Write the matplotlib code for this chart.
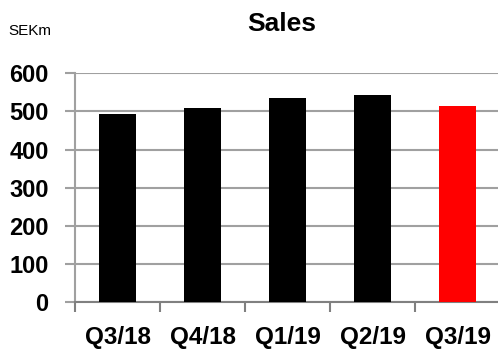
import matplotlib
matplotlib.use("Agg")
import matplotlib.pyplot as plt
import numpy as np

categories = ["Q3/18", "Q4/18", "Q1/19", "Q2/19", "Q3/19"]
sales = [494, 508, 535, 543, 514]
colors = ["#000000", "#000000", "#000000", "#000000", "#ff0000"]
yticks = [0, 100, 200, 300, 400, 500, 600]

font = "Liberation Sans"

fig = plt.figure(figsize=(4.98, 3.49), dpi=100)
ax = fig.add_axes([75/498, 47/349, 425/498, (302-73.3)/349])
x = np.arange(len(categories))
ax.bar(x, sales, width=0.43, color=colors, zorder=3)
ax.set_xlim(-0.5, 4.5)
ax.set_ylim(0, 600)
ax.set_yticks(yticks)
ax.set_yticklabels([str(v) for v in yticks], fontfamily=font, fontweight="bold", fontsize=17)
ax.yaxis.grid(True, color="#a0a0a0", linewidth=1.5, zorder=0)
ax.set_xticks(np.arange(-0.5, 4.5, 1.0))
ax.set_xticklabels([])
ax.set_xticks(x, minor=True)
ax.set_xticklabels(categories, minor=True, fontfamily=font, fontweight="bold", fontsize=17.5)
ax.tick_params(axis="x", which="minor", length=0, pad=17)
ax.tick_params(axis="x", which="major", length=7, width=1.5, color="#808080", direction="out")
ax.tick_params(axis="y", length=7, width=1.5, color="#a0a0a0", pad=12)
for s in ["top", "right"]:
    ax.spines[s].set_visible(False)
ax.spines["left"].set_color("#a0a0a0")
ax.spines["left"].set_linewidth(1.5)
ax.spines["bottom"].set_color("#808080")
ax.spines["bottom"].set_linewidth(1.5)

fig.text(282/498, 1 - 24/349, "Sales", ha="center", va="center",
         fontfamily=font, fontweight="bold", fontsize=19)
fig.text(8/498, 1 - 31/349, "SEKm", ha="left", va="center",
         fontfamily=font, fontsize=11)

fig.savefig("out.png", dpi=100)
